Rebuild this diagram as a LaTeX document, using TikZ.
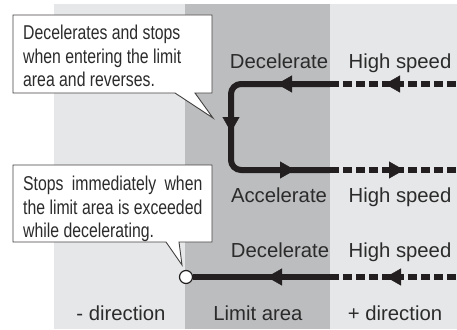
\documentclass[tikz,border=0pt]{standalone}
\usepackage{fontspec}
\setmainfont{Liberation Sans}
\newfontfamily\notefont[FakeStretch=0.79]{Liberation Sans}
\usepackage{calc}
\usetikzlibrary{arrows.meta}

\definecolor{zonelight}{HTML}{E6E7E8}
\definecolor{zonedark}{HTML}{BCBDBF}
\definecolor{ink}{HTML}{231F20}
\definecolor{txt}{HTML}{2B2B2B}

\begin{document}
\begin{tikzpicture}[x=1pt,y=-1pt,
  runline/.style={draw=ink, line width=6pt},
  dashline/.style={draw=ink, line width=6pt, dash pattern=on 9pt off 4pt},
  tiphead/.style={draw=ink, fill=ink, line width=0.4pt, -{Triangle[length=15pt,width=17pt]}},
  lbl/.style={font=\fontsize{20.3}{24}\selectfont, text=txt, inner sep=0pt},
  callout/.style={draw=ink!85, fill=white, line width=0.9pt, line join=miter},
  notetext/.style={font=\notefont\fontsize{20}{23.5}\selectfont, text=txt, inner sep=0pt, align=left}
]
\useasboundingbox (0,0) rectangle (457,329);

% zones: - direction / limit area / + direction
\fill[zonelight] (54,4) rectangle (457,329);
\fill[zonedark] (185,4) rectangle (330,329);

% reversing loop
\coordinate (loopIn)    at (457,84);
\coordinate (edgeTop)   at (330,84);
\coordinate (cornerTop) at (231,84);
\coordinate (cornerBot) at (231,170);
\coordinate (edgeBot)   at (330,170);
\coordinate (loopOut)   at (457,170);

\draw[dashline] (edgeTop) -- (loopIn);
\draw[runline, rounded corners=10pt] (edgeTop) -- (cornerTop) -- (cornerBot) -- (edgeBot);
\draw[dashline] (edgeBot) -- (loopOut);

\draw[tiphead] (400,84) -- (385,84);
\draw[tiphead] (292,84) -- (277,84);
\draw[tiphead] (231,117) -- (231,132);
\draw[tiphead] (280,170) -- (295,170);
\draw[tiphead] (389,170) -- (404,170);

% overrun stop
\node[circle, draw=ink, fill=white, line width=1.2pt, minimum size=13pt, inner sep=0pt] (stop) at (186,277) {};
\coordinate (edgeLow) at (330,277);
\coordinate (lowIn)   at (457,277);
\draw[runline] (stop.east) -- (edgeLow);
\draw[dashline] (edgeLow) -- (lowIn);
\draw[tiphead] (401,277) -- (386,277);
\draw[tiphead] (282,277) -- (267,277);

% speed labels
\node[lbl, anchor=base] (decA)  at (279,68)  {Decelerate};
\node[lbl, anchor=base] (hiA)   at (400,68)  {High speed};
\node[lbl, anchor=base] (accB)  at (279,202) {Accelerate};
\node[lbl, anchor=base] (hiB)   at (400,202) {High speed};
\node[lbl, anchor=base] (decC)  at (280,257) {Decelerate};
\node[lbl, anchor=base] (hiC)   at (400,257) {High speed};

% zone labels
\node[lbl, anchor=base] (zoneMinus) at (121,320) {- direction};
\node[lbl, anchor=base] (zoneLimit) at (258,320) {Limit area};
\node[lbl, anchor=base] (zonePlus)  at (395,320) {+ direction};

% callout: reversing
\coordinate (tipA) at (213,118);
\draw[callout] (13,15) -- (212,15) -- (212,93) -- (195,93) -- (tipA) -- (175,93) -- (13,93) -- cycle;
\node[notetext, anchor=north west] (noteA) at (23,25)
  {Decelerates and stops\\when entering the limit\\area and reverses.};

% callout: immediate stop
\coordinate (tipB) at (182,265);
\draw[callout] (13,165) -- (212,165) -- (212,242) -- (179,242) -- (tipB) -- (166,242) -- (13,242) -- cycle;
\node[notetext, anchor=north west] (noteB) at (23,176)
  {\makebox[\widthof{the limit area is exceeded}][s]{Stops immediately when}\\the limit area is exceeded\\while decelerating.};
\end{tikzpicture}
\end{document}
